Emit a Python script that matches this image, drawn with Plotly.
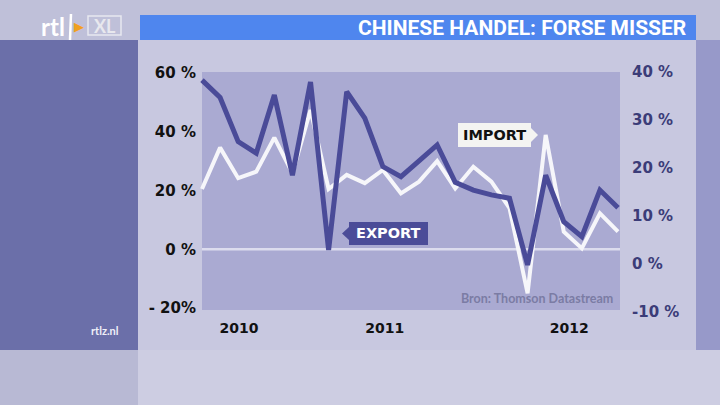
import plotly.graph_objects as go

# Data: monthly y/y growth, Jul 2010 - Jun 2012
months = list(range(24))
export_vals = [38.3, 34.7, 25.5, 23.1, 35.2, 18.5, 37.9, 2.9, 35.9, 30.4, 20.3, 18.2,
               21.5, 24.8, 17.0, 15.4, 14.4, 13.7, -0.2, 18.5, 8.8, 5.7, 15.4, 11.7]
import_vals = [20.5, 34.6, 24.2, 26.4, 38.0, 25.9, 47.4, 20.5, 25.3, 22.5, 27.0, 19.0,
               23.0, 30.0, 20.7, 28.1, 23.0, 14.0, -15.0, 38.9, 6.0, 0.3, 12.2, 6.0]
year_pos = [2.05, 10.1, 20.3]
year_labels = ["2010", "2011", "2012"]
left_ticks = [-20, 0, 20, 40, 60]
left_text = ["- 20%", "0 %", "20 %", "40 %", "60 %"]
right_ticks = [-10, 0, 10, 20, 30, 40]
right_text = ["-10 %", "0 %", "10 %", "20 %", "30 %", "40 %"]

W, H = 720, 405
def px(x):
    return x / W
def py(y):
    return 1 - y / H

FONT = "Lato, Open Sans, sans-serif"
WIDE = "DejaVu Sans, Verdana, sans-serif"
def b(t):
    return f"<b>{t}</b>"

fig = go.Figure()

fig.add_trace(go.Scatter(x=months, y=import_vals, mode="lines",
                         line=dict(color="#f6f6fa", width=4), yaxis="y",
                         hoverinfo="skip", showlegend=False))
fig.add_trace(go.Scatter(x=months, y=export_vals, mode="lines",
                         line=dict(color="#4a4b98", width=5), yaxis="y2",
                         hoverinfo="skip", showlegend=False))

shapes = []
def rect(x0, y0, x1, y1, color, layer="below", line=None):
    shapes.append(dict(type="rect", xref="paper", yref="paper",
                       x0=px(x0), x1=px(x1), y0=py(y1), y1=py(y0),
                       fillcolor=color, line=line or dict(width=0), layer=layer))

rect(0, 0, 720, 405, "#c8c8e0")
rect(0, 0, 720, 40, "#bfc0d9")
rect(0, 40, 138, 350, "#6b6fa9")
rect(696, 40, 720, 350, "#9799c9")
rect(0, 350, 138, 405, "#b8b9d4")
rect(138, 350, 720, 405, "#cdcde2")
rect(140, 15, 696, 40, "#4f86ee")
rect(202, 72, 620, 310, "#aaaad2")
# zero line
shapes.append(dict(type="line", xref="paper", yref="y", x0=px(202), x1=px(620),
                   y0=0, y1=0, line=dict(color="#dcdcee", width=2.5), layer="below"))
# label boxes
rect(458, 123, 531, 147, "#f4f4f2", layer="above")
rect(349, 222, 428, 245, "#4b4c98", layer="above")
shapes.append(dict(type="path", xref="paper", yref="paper",
                   path=f"M {px(531)},{py(128)} L {px(538)},{py(135)} L {px(531)},{py(142)} Z",
                   fillcolor="#f4f4f2", line=dict(width=0), layer="above"))
shapes.append(dict(type="path", xref="paper", yref="paper",
                   path=f"M {px(349)},{py(227)} L {px(342)},{py(233.5)} L {px(349)},{py(240)} Z",
                   fillcolor="#4b4c98", line=dict(width=0), layer="above"))
# logo pieces
rect(88, 16, 121, 35, "rgba(0,0,0,0)", layer="above", line=dict(color="#e8e8f0", width=1.5))
shapes.append(dict(type="line", xref="paper", yref="paper", x0=px(71), x1=px(70),
                   y0=py(14), y1=py(40), line=dict(color="white", width=2.5), layer="above"))

annotations = [
    dict(x=px(688), y=py(28), xref="paper", yref="paper", text=b("CHINESE HANDEL: FORSE MISSER"),
         showarrow=False, xanchor="right", yanchor="middle",
         font=dict(family="Liberation Sans Narrow, Roboto, sans-serif", size=21, color="white")),
    dict(x=px(494.5), y=py(135), xref="paper", yref="paper", text=b("IMPORT"),
         showarrow=False, xanchor="center", yanchor="middle",
         font=dict(family=WIDE, size=14.5, color="#111111")),
    dict(x=px(388.5), y=py(233.5), xref="paper", yref="paper", text=b("EXPORT"),
         showarrow=False, xanchor="center", yanchor="middle",
         font=dict(family=WIDE, size=14.5, color="white")),
    dict(x=px(615), y=py(298), xref="paper", yref="paper", text=b("Bron: Thomson Datastream"),
         showarrow=False, xanchor="right", yanchor="middle",
         font=dict(family=FONT, size=12.5, color="#7b7ca4")),
    dict(x=px(105), y=py(330), xref="paper", yref="paper", text=b("rtlz.nl"),
         showarrow=False, xanchor="center", yanchor="middle",
         font=dict(family=FONT, size=11, color="#f0f0f8")),
    dict(x=px(53), y=py(26), xref="paper", yref="paper", text=b("rtl"),
         showarrow=False, xanchor="center", yanchor="middle",
         font=dict(family=FONT, size=24, color="white")),
    dict(x=px(79), y=py(26), xref="paper", yref="paper", text="▶",
         showarrow=False, xanchor="center", yanchor="middle",
         font=dict(family="DejaVu Sans", size=13, color="#f0a020")),
    dict(x=px(104.5), y=py(26), xref="paper", yref="paper", text=b("XL"),
         showarrow=False, xanchor="center", yanchor="middle",
         font=dict(family=FONT, size=18, color="#e8e8ee")),
]

fig.update_layout(
    width=W, height=H, margin=dict(l=0, r=0, t=0, b=0, autoexpand=False),
    paper_bgcolor="#c8c8e0", plot_bgcolor="rgba(0,0,0,0)",
    shapes=shapes, annotations=annotations, showlegend=False,
    xaxis=dict(domain=[px(200), px(622)], range=[-0.11, 23.22],
               tickvals=year_pos, ticktext=[b(t) for t in year_labels], showgrid=False,
               zeroline=False, showline=False, ticks="", fixedrange=True, automargin=False,
               tickfont=dict(family=WIDE, size=14, color="#111111"), ticklabelstandoff=4),
    yaxis=dict(domain=[1 - 314 / H, 1 - 70 / H], range=[-22.04, 61.02], automargin=False,
               tickvals=left_ticks, ticktext=[b(t) for t in left_text], showgrid=False,
               zeroline=False, showline=False, ticks="",
               tickfont=dict(family=WIDE, size=15, color="#111111"), ticklabelstandoff=3),
    yaxis2=dict(domain=[1 - 314 / H, 1 - 70 / H], range=[-10.42, 40.42], overlaying="y",
                side="right", anchor="x", automargin=False,
                tickvals=right_ticks, ticktext=[b(t) for t in right_text], showgrid=False,
                zeroline=False, showline=False, ticks="",
                tickfont=dict(family=WIDE, size=15, color="#3b3c78"), ticklabelstandoff=9),
)

fig.write_html("out.html", config={"displayModeBar": False},
               post_script="document.body.style.margin='0px';document.body.style.overflow='hidden';")
